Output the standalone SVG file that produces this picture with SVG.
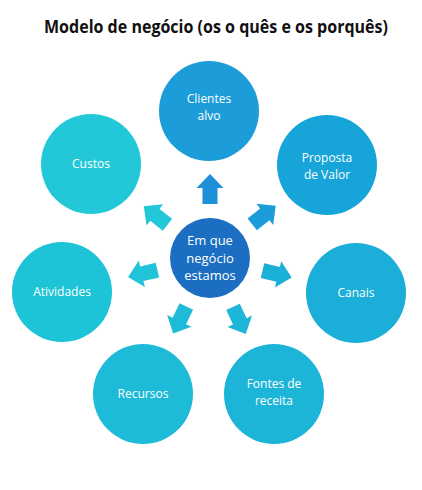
<svg xmlns="http://www.w3.org/2000/svg" xmlns:xlink="http://www.w3.org/1999/xlink" width="422" height="490" viewBox="0 0 422 490">
<style>
.t{font-family:"Open Sans","Liberation Sans",sans-serif;font-size:12px;fill:#ffffff;text-anchor:middle}
.c{font-size:13px}
.title{font-family:"Open Sans","Liberation Sans",sans-serif;font-size:17px;font-weight:bold;fill:#111111;text-anchor:middle}
</style>
<defs>
<path id="arr" d="M54,-7.5 L70,-7.5 L70,-13.5 L84,0 L70,13.5 L70,7.5 L54,7.5 Z"/>
</defs>
<rect width="422" height="490" fill="#ffffff"/>
<text class="title" x="216" y="33" textLength="344" lengthAdjust="spacingAndGlyphs">Modelo de negócio (os o quês e os porquês)</text>
<g id="connectors">
<use xlink:href="#arr" transform="translate(210,258) rotate(-90)" fill="#1E90D8"/>
<use xlink:href="#arr" transform="translate(210,258) rotate(-38.5)" fill="#1C9CD8"/>
<use xlink:href="#arr" transform="translate(210,258) rotate(13.5)" fill="#1BB0D8"/>
<use xlink:href="#arr" transform="translate(210,258) rotate(64.8)" fill="#1DB6D8"/>
<use xlink:href="#arr" transform="translate(210,258) rotate(116)" fill="#1EBBD8"/>
<use xlink:href="#arr" transform="translate(210,258) rotate(167)" fill="#20C3D8"/>
<use xlink:href="#arr" transform="translate(210,258) rotate(218)" fill="#22C7D8"/>
</g>
<g id="center">
<circle cx="210" cy="258" r="40" fill="#1B6EC2"/>
<text class="t c" x="210" y="245">Em que</text>
<text class="t c" x="210" y="262.5">negócio</text>
<text class="t c" x="210" y="280">estamos</text>
</g>
<g id="clientes">
<circle cx="209" cy="111" r="50" fill="#1C9CD8"/>
<text class="t" x="209" y="103">Clientes</text>
<text class="t" x="209" y="120">alvo</text>
</g>
<g id="proposta">
<circle cx="327" cy="165" r="50" fill="#17A4D8"/>
<text class="t" x="327" y="162">Proposta</text>
<text class="t" x="327" y="179">de Valor</text>
</g>
<g id="canais">
<circle cx="356" cy="293" r="50" fill="#1AAED9"/>
<text class="t" x="356" y="297">Canais</text>
</g>
<g id="fontes">
<circle cx="274" cy="394" r="50" fill="#1DB5D7"/>
<text class="t" x="274" y="388">Fontes de</text>
<text class="t" x="274" y="405">receita</text>
</g>
<g id="recursos">
<circle cx="143" cy="394" r="50" fill="#1DBBD8"/>
<text class="t" x="143" y="398">Recursos</text>
</g>
<g id="atividades">
<circle cx="62" cy="292" r="50" fill="#1DC3D7"/>
<text class="t" x="62" y="296">Atividades</text>
</g>
<g id="custos">
<circle cx="91" cy="164" r="50" fill="#22C8D8"/>
<text class="t" x="91" y="168">Custos</text>
</g>
</svg>
